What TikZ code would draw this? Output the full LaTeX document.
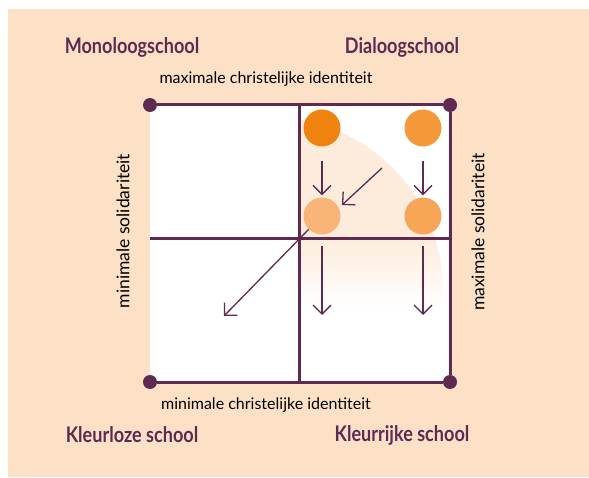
\documentclass[tikz,border=0pt]{standalone}
\usepackage{fontspec}
\setmainfont{Lato}
\usetikzlibrary{arrows.meta}
\definecolor{peach}{HTML}{FCE1C6}
\definecolor{glow}{HTML}{FDECDC}
\definecolor{plum}{HTML}{5E2A52}
\definecolor{orangeA}{HTML}{F0820F}
\definecolor{orangeB}{HTML}{F4993A}
\definecolor{orangeC}{HTML}{F9B577}
\definecolor{orangeD}{HTML}{F7A658}
\tikzset{
	dot/.style={circle, fill=plum, inner sep=0pt, minimum size=14pt},
	ball/.style={circle, inner sep=0pt, minimum size=37pt},
	arr/.style={plum, line width=1.3pt, -{Straight Barb[length=9pt,width=18pt]}},
	axis/.style={font=\fontsize{16}{18}\selectfont, text=black},
	vaxis/.style={font=\fontsize{17.5}{19}\selectfont, text=black, rotate=90},
	title/.style={font=\bfseries\fontsize{21.5}{24}\selectfont, text=plum, xscale=0.84},
	frame/.style={plum, line width=3pt},
}

\begin{document}
\begin{tikzpicture}[x=1pt, y=1pt]
		%%%%% START %%%%%
		\useasboundingbox (0, 0) rectangle (589, 477);
		\fill[peach] (8, 0) rectangle (589, 468);
		\fill[white] (150, 95) rectangle (450, 372);
		
		% glow in the upper right field
		\begin{scope}
			\clip (299, 95) rectangle (450, 372);
			\clip (270, 187) circle (173pt);
			\fill[glow] (299, 238) rectangle (450, 372);
			\shade[top color=glow, bottom color=white] (299, 170) rectangle (450, 238);
		\end{scope}
		
		\node[dot] (tl) at (150, 372) {};
		\node[dot] (tr) at (450, 372) {};
		\node[dot] (bl) at (150, 95) {};
		\node[dot] (br) at (450, 95) {};
		\coordinate (tm) at (299, 372);
		\coordinate (bm) at (299, 95);
		\coordinate (lm) at (150, 238);
		\coordinate (rm) at (450, 238);
		
		\draw[frame] (tl) -- (tr) -- (br) -- (bl) -- cycle;
		\draw[frame] (tm) -- (bm);
		\draw[frame] (lm) -- (rm);
		
		\node[ball, fill=orangeA] (c1) at (322, 349) {};
		\node[ball, fill=orangeB] (c2) at (423, 349) {};
		\node[ball, fill=orangeC] (c3) at (322, 261) {};
		\node[ball, fill=orangeD] (c4) at (423, 261) {};
		
		\coordinate (d1) at (382, 309);
		\coordinate (d2) at (342, 272);
		\coordinate (e1) at (224, 161);
		\coordinate (e3) at (322, 162);
		\coordinate (e4) at (423, 162);
		
		\draw[arr, shorten <=14pt, shorten >=2pt] (c1) -- (c3);
		\draw[arr, shorten <=14pt, shorten >=2pt] (c2) -- (c4);
		\draw[arr] (d1) -- (d2);
		\draw[arr] (c3.-135) -- (e1);
		\draw[arr, shorten <=11pt] (c3) -- (e3);
		\draw[arr, shorten <=11pt] (c4) -- (e4);
		
		\node[axis] (maxid) at (266, 398) {maximale christelijke identiteit};
		\node[axis] (minid) at (266, 72) {minimale christelijke identiteit};
		\node[vaxis] (minsol) at (123, 246) {minimale solidariteit};
		\node[vaxis] (maxsol) at (478, 245) {maximale solidariteit};
		
		\node[title] (mono) at (132, 430) {Monoloogschool};
		\node[title] (dia) at (402, 430) {Dialoogschool};
		\node[title] (kloos) at (132, 42) {Kleurloze school};
		\node[title] (krijk) at (402, 42) {Kleurrijke school};
		%%%%% END %%%%%
\end{tikzpicture}
\end{document}
